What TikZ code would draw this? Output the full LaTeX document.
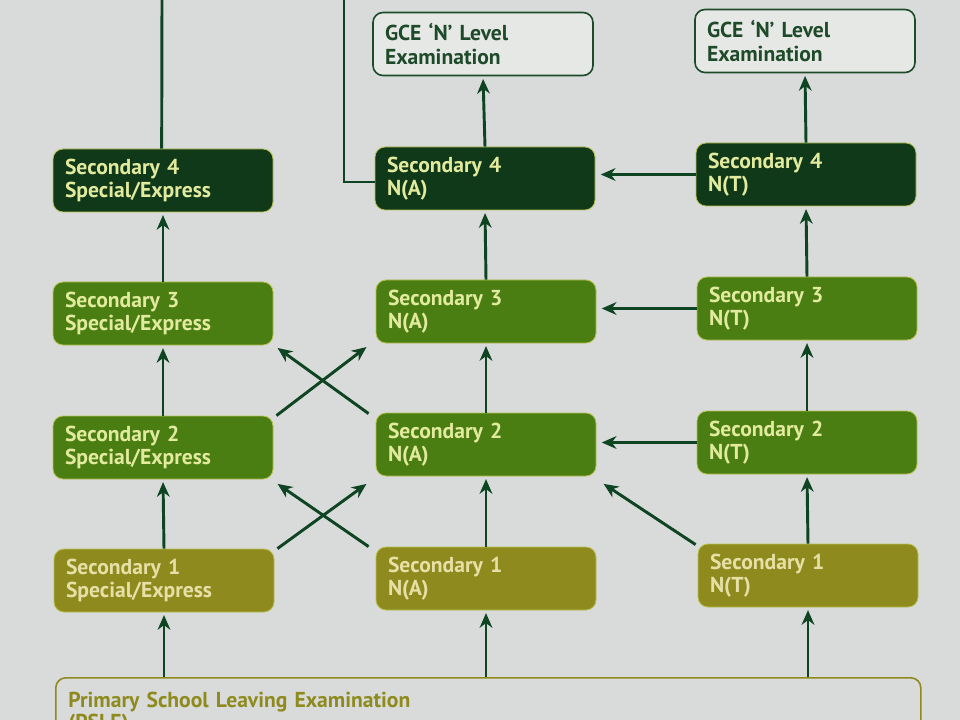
\documentclass[tikz,border=0pt]{standalone}
\usepackage{fontspec}
\setmainfont{PT Sans}
\usetikzlibrary{arrows.meta,calc}
\definecolor{bgc}{HTML}{D8DBDA}
\definecolor{darkg}{HTML}{10391A}
\definecolor{midg}{HTML}{4A7E12}
\definecolor{oliv}{HTML}{8E8A1E}
\definecolor{txtg}{HTML}{E2EA9E}
\definecolor{txto}{HTML}{E6E0A6}
\definecolor{arr}{HTML}{0F4422}
\definecolor{gcef}{HTML}{E6E8E6}
\definecolor{gceb}{HTML}{1E4A2A}
\definecolor{edg}{HTML}{B8C050}
\tikzset{
  box/.style={rectangle, rounded corners=7.5pt, minimum width=165pt, minimum height=47.25pt,
    text width=147pt, inner xsep=9pt, inner ysep=2pt, align=left, font=\bfseries\fontsize{16.2}{17.5}\selectfont,
    draw=edg, line width=0.6pt},
  yr4/.style={box, fill=darkg, text=txtg},
  yr3/.style={box, fill=midg, text=txtg},
  yr1/.style={box, fill=oliv, text=txto},
  gce/.style={box, fill=gcef, draw=gceb, line width=1.2pt, text=gceb},
  psle/.style={rectangle, rounded corners=7.5pt, minimum width=648.75pt,
    text width=630pt, inner xsep=9pt, inner ysep=0pt, align=left, anchor=north west,
    font=\bfseries\fontsize{16.2}{16.5}\selectfont, draw=oliv, line width=1.2pt, fill=bgc, text=oliv},
  con/.style={draw=arr, line width=2.2pt},
  arrw/.style={con, -{Stealth[length=11pt,width=9.5pt,inset=3.5pt]}, shorten >=2pt},
}
\begin{document}
\begin{tikzpicture}[x=0.75pt,y=-0.75pt]
\useasboundingbox (0,0) rectangle (960,720);
\fill[bgc] (0,0) rectangle (960,720);
% column 1
\node[yr4] (s4e) at (163,180.5) {Secondary 4\\Special/Express};
\node[yr3] (s3e) at (163,313.5) {Secondary 3\\Special/Express};
\node[yr3] (s2e) at (163,447.5) {Secondary 2\\Special/Express};
\node[yr1] (s1e) at (164,580.5) {Secondary 1\\Special/Express};
% column 2
\node[gce] (ga) at (483,44) {GCE `N' Level\\Examination};
\node[yr4] (s4a) at (485,178.5) {Secondary 4\\N(A)};
\node[yr3] (s3a) at (486,311.5) {Secondary 3\\N(A)};
\node[yr3] (s2a) at (486,444.5) {Secondary 2\\N(A)};
\node[yr1] (s1a) at (486,578.5) {Secondary 1\\N(A)};
% column 3
\node[gce] (gt) at (805,41) {GCE `N' Level\\Examination};
\node[yr4] (s4t) at (806,174.5) {Secondary 4\\N(T)};
\node[yr3] (s3t) at (807,308.5) {Secondary 3\\N(T)};
\node[yr3] (s2t) at (807,442.5) {Secondary 2\\N(T)};
\node[yr1] (s1t) at (808,575.5) {Secondary 1\\N(T)};
% PSLE
\node[psle] (ps) at (55,677) {\rule{0pt}{22pt}Primary School Leaving Examination\\(PSLE)\rule[-12pt]{0pt}{12pt}};
% top exits
\coordinate (t1) at (162,0);
\coordinate (k2) at (344,182);
\coordinate (t2) at (344,0);
\draw[con] ([xshift=-1pt]s4e.north) -- (t1);
\draw[con, line width=1.8pt] (s4a.west |- k2) -- (k2) -- (t2);
% verticals
\foreach \a/\b in {s1e/s2e,s2e/s3e,s3e/s4e,s1a/s2a,s2a/s3a,s3a/s4a,s4a/ga,s1t/s2t,s2t/s3t,s3t/s4t,s4t/gt}{
  \draw[arrw] (\a.north) -- (\b.south);
}
\draw[arrw] (ps.north -| s1e) -- (s1e.south);
\draw[arrw] (ps.north -| s1a) -- (s1a.south);
\draw[arrw] (ps.north -| s1t) -- (s1t.south);
% horizontals
\draw[arrw, shorten >=4pt] (s4t.west) -- (s4t.west -| s4a.east);
\draw[arrw, shorten >=4pt] (s3t.west) -- (s3t.west -| s3a.east);
\draw[arrw, shorten >=4pt] (s2t.west) -- (s2t.west -| s2a.east);
% crosses
\draw[arrw] ($(s1e.north east)+(3,0)$) -- ($(s2a.south west)+(-7,6)$);
\draw[arrw] ($(s1a.north west)+(-7,0)$) -- ($(s2e.south east)+(2,3)$);
\draw[arrw] ($(s2e.north east)+(3,0)$) -- ($(s3a.south west)+(-7,2)$);
\draw[arrw] ($(s2a.north west)+(-7,1)$) -- ($(s3e.south east)+(2,1)$);
\draw[arrw] ($(s1t.north west)+(-2,1)$) -- ($(s2a.south east)+(5,6)$);
\end{tikzpicture}
\end{document}
